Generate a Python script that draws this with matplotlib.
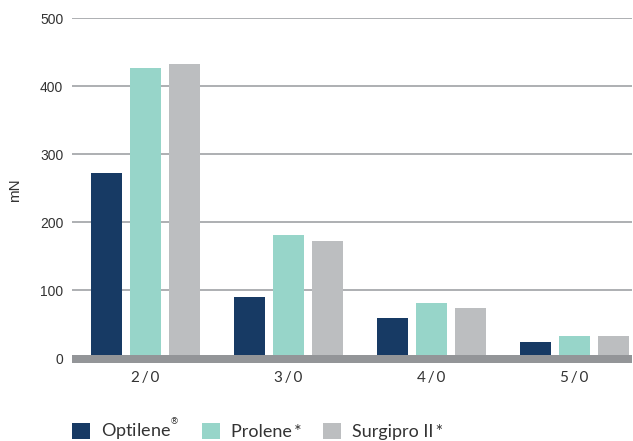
import matplotlib
matplotlib.use("Agg")
import matplotlib.pyplot as plt
import numpy as np
from matplotlib.patches import Patch

sizes = ["2\u2009/\u20090", "3\u2009/\u20090", "4\u2009/\u20090", "5\u2009/\u20090"]
series = ["Optilene$^{^{®}}$", "Prolene\u2009*", "Surgipro II\u2009*"]
optilene = [272, 90, 59, 24]
prolene = [427, 181, 81, 33]
surgipro = [433, 172, 74, 33]
y_ticks = [0, 100, 200, 300, 400, 500]

colors = ["#173a64", "#97d5c9", "#bcbec0"]
values = [optilene, prolene, surgipro]

fig = plt.figure(figsize=(6.33, 4.41), dpi=100)
ax = fig.add_axes([0.1142, 0.1769, 0.8842, 0.7816])

x = np.arange(len(sizes))
width = 0.217
step = 0.273
for i, (vals, col) in enumerate(zip(values, colors)):
    ax.bar(x + (i - 1) * step, vals, width=width, color=col, zorder=2)

# thick grey baseline
ax.axhspan(-7, 5, color="#939598", zorder=3, lw=0)

for yv in y_ticks[1:]:
    ax.axhline(yv, color="#a7a9ac", lw=1.3, zorder=1)

ax.set_xlim(-0.51, 3.405)
ax.set_ylim(-7, 500)
ax.set_yticks(y_ticks)
ax.set_yticklabels([str(v) for v in y_ticks], fontsize=10, color="#333333",
                   family="Liberation Sans")
ax.set_xticks(x)
ax.set_xticklabels(sizes, fontsize=11, color="#333333", family=["Lato", "DejaVu Sans"])
ax.tick_params(axis="both", length=0)
ax.tick_params(axis="y", pad=6.5)
ax.tick_params(axis="x", pad=6)
for s in ax.spines.values():
    s.set_visible(False)

ax.set_ylabel("mN", fontsize=11, color="#333333", family="Liberation Sans", labelpad=13)

handles = [Patch(facecolor=c, edgecolor="none") for c in colors]
fig.legend(handles, series, loc="center left", bbox_to_anchor=(0.1137, 0.027), ncol=3,
           frameon=False, prop={"family": ["Lato", "DejaVu Sans"], "size": 13},
           handlelength=1.0, handleheight=1.0, handletextpad=0.62,
           columnspacing=1.2, borderpad=0, borderaxespad=0, labelcolor="#333333")

fig.savefig("out.png", dpi=100)
